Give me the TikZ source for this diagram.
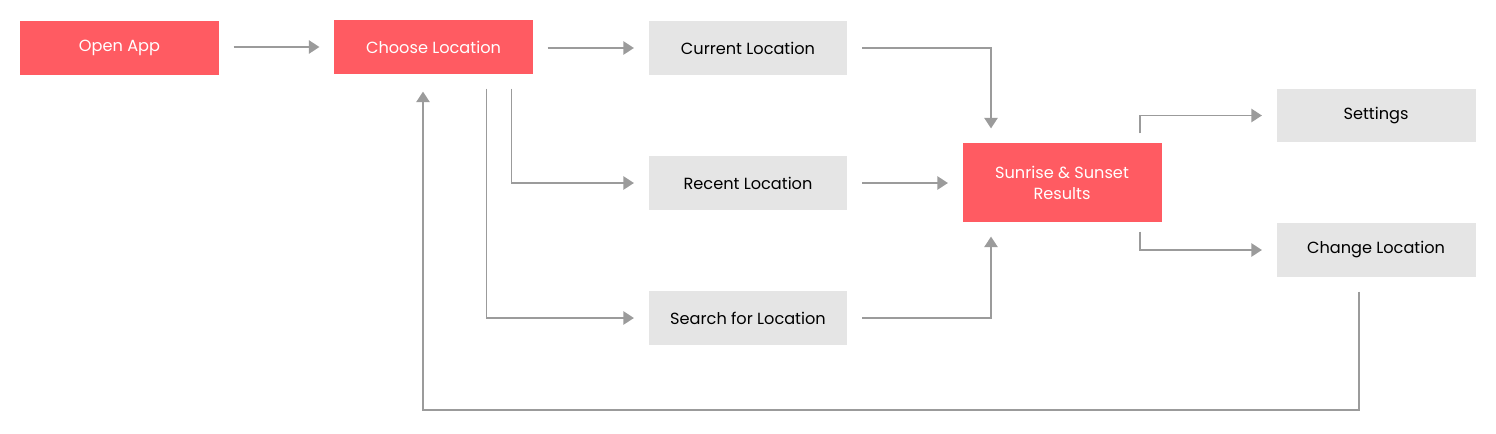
\documentclass[tikz,border=0pt]{standalone}
\usepackage{fontspec}
\setmainfont{Poppins}
\usetikzlibrary{arrows.meta,calc}
\definecolor{appred}{HTML}{FF5B62}
\definecolor{boxgray}{HTML}{E5E5E5}
\definecolor{linegray}{HTML}{9B9B9B}
\tikzset{
  redbox/.style={fill=appred, text=white, minimum width=3.98cm, minimum height=1.08cm, align=center, font=\fontsize{9.2}{12}\selectfont, outer sep=8.3pt},
  graybox/.style={fill=boxgray, text=black, minimum width=3.98cm, minimum height=1.08cm, align=center, font=\fontsize{9.2}{12}\selectfont, outer sep=8.3pt},
  flow/.style={draw=linegray, line width=1.1pt, -{Triangle[length=6pt,width=7.5pt]}}
}
\begin{document}
\begin{tikzpicture}[x=0.02cm,y=-0.02cm]
        \useasboundingbox (0,0) rectangle (1496,433);
        \node[redbox] (open) at (119.5,48) {Open App};
        \node[redbox] (choose) at (433.5,47) {Choose Location};
        \node[graybox] (current) at (748,48) {Current Location};
        \node[graybox] (recent) at (748,183) {Recent Location};
        \node[graybox] (search) at (748,318) {Search for Location};
        \node[redbox, minimum height=1.58cm] (sun) at (1062,182.5) {Sunrise \& Sunset\\Results};
        \node[graybox] (settings) at (1376,115.5) {Settings};
        \node[graybox] (change) at (1376,250) {Change Location};
        % main line
        \draw[flow] (open.east |- choose.west) -- (choose.west);
        \draw[flow] (choose.east |- current.west) -- (current.west);
        \draw[flow] ($(choose.south)+(78,0)$) |- (recent.west);
        \draw[flow] ($(choose.south)+(53,0)$) |- (search.west);
        % into results
        \draw[flow] (current.east) -| ($(sun.north)+(-71,0)$);
        \draw[flow] (recent.east) -- (sun.west |- recent.east);
        \draw[flow] (search.east) -| ($(sun.south)+(-71,0)$);
        % out of results
        \draw[flow] ($(sun.north)+(78,5)$) |- (settings.west);
        \draw[flow] ($(sun.south)+(78,-5)$) |- (change.west);
        % back to start
        \draw[flow] ($(change.south)+(-17,0)$) -- ++(0,118) -| ($(choose.south)+(-10.5,3)$);
\end{tikzpicture}
\end{document}
